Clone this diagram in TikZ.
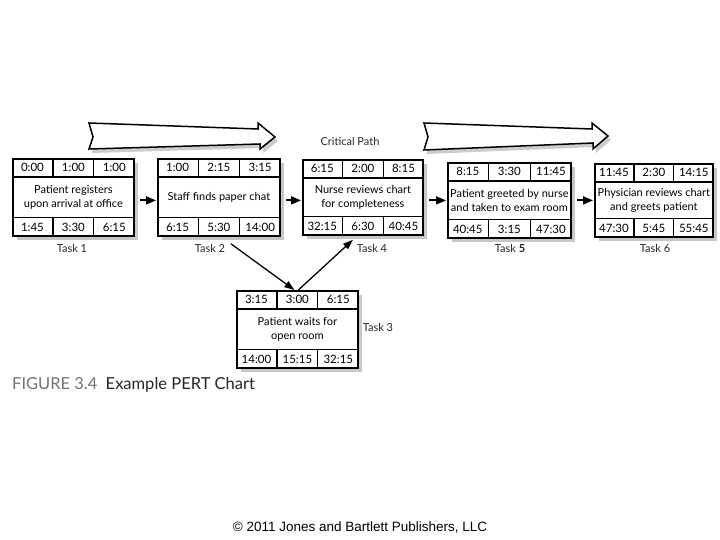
\documentclass[tikz,border=0pt]{standalone}
\usepackage{fontspec}
\setmainfont{Lato}
\newfontfamily\arialfont{Liberation Sans}
\usetikzlibrary{calc,arrows.meta}
\definecolor{shadowgray}{gray}{0.78}
\definecolor{capgray}{gray}{0.45}
\newcommand\pertbox[6]{%
  \fill[shadowgray] (#2+5,#3+5) rectangle (#4+5,#5+5);
  \node[boxframe, minimum width={#4-#2}, minimum height={#5-#3}] (#1) at (#2,#3) {#6};
  \draw[divider] ([yshift=-19pt]#1.north west) -- ([yshift=-19pt]#1.north east);
  \draw[divider] ([yshift=19pt]#1.south west) -- ([yshift=19pt]#1.south east);
  \draw[divider] ($(#1.north west)!1/3!(#1.north east)$) -- ++(0,19);
  \draw[divider] ($(#1.north west)!2/3!(#1.north east)$) -- ++(0,19);
  \draw[divider] ($(#1.south west)!1/3!(#1.south east)$) -- ++(0,-19);
  \draw[divider] ($(#1.south west)!2/3!(#1.south east)$) -- ++(0,-19);
}
\newcommand\pertcells[7]{%
  \node[cell] (#1-t1) at ($(#1.north west)!1/6!(#1.north east)+(0,9.5)$) {#2};
  \node[cell] (#1-t2) at ($(#1.north west)!3/6!(#1.north east)+(0,9.5)$) {#3};
  \node[cell] (#1-t3) at ($(#1.north west)!5/6!(#1.north east)+(0,9.5)$) {#4};
  \node[cell] (#1-b1) at ($(#1.south west)!1/6!(#1.south east)+(0,-9.5)$) {#5};
  \node[cell] (#1-b2) at ($(#1.south west)!3/6!(#1.south east)+(0,-9.5)$) {#6};
  \node[cell] (#1-b3) at ($(#1.south west)!5/6!(#1.south east)+(0,-9.5)$) {#7};
}
\begin{document}
\begin{tikzpicture}[x=1pt,y=-1pt,
  boxframe/.style={draw=black, line width=1.8pt, fill=white, inner sep=0pt, anchor=north west,
    align=center, font=\fontsize{11}{14}\selectfont},
  cell/.style={inner sep=0pt, font=\fontsize{11.5}{13}\selectfont},
  divider/.style={line width=1.2pt},
  conn/.style={line width=1.8pt, -{Triangle[length=10pt,width=8pt]}},
  diag/.style={line width=1.3pt, -{Triangle[length=10pt,width=7pt]}},
  tasklabel/.style={inner sep=0pt, font=\fontsize{11}{13}\selectfont, text=black!85},
  bigarrow/.style={draw=black, line width=1.5pt, fill=white, line join=miter},
  arrowshadow/.style={fill=black!20}
]
\useasboundingbox (0,0) rectangle (720,540);

% critical path arrows
\fill[arrowshadow] (92,127) -- (261,133) -- (261,127) -- (278,141) -- (263,153) -- (263,148) -- (92,153) -- cycle;
\draw[bigarrow] (89,123) -- (258,129) -- (258,123) -- (275,137) -- (260,149) -- (260,144) -- (89,149) -- (93,137) -- cycle;
\fill[arrowshadow] (427,127) -- (595,133) -- (595,127) -- (611,140) -- (596,153) -- (596,147) -- (427,154) -- cycle;
\draw[bigarrow] (424,123) -- (592,129) -- (592,123) -- (608,136) -- (593,149) -- (593,143) -- (424,150) -- (428,137) -- cycle;
\node[tasklabel] (cp) at (350,141) {Critical Path};

% boxes
\pertbox{b1}{12}{158}{133}{235}{Patient registers\\upon arrival at office}
\pertcells{b1}{0:00}{1:00}{1:00}{1:45}{3:30}{6:15}
\pertbox{b2}{157}{158}{279}{235}{Staff finds paper chat}
\pertcells{b2}{1:00}{2:15}{3:15}{6:15}{5:30}{14:00}
\pertbox{b4}{302}{159}{422}{234}{Nurse reviews chart\\for completeness}
\pertcells{b4}{6:15}{2:00}{8:15}{32:15}{6:30}{40:45}
\pertbox{b5}{447}{162}{570}{237}{Patient greeted by nurse\\and taken to exam room}
\pertcells{b5}{8:15}{3:30}{11:45}{40:45}{3:15}{47:30}
\pertbox{b6}{594}{163}{712}{236}{Physician reviews chart\\and greets patient}
\pertcells{b6}{11:45}{2:30}{14:15}{47:30}{5:45}{55:45}
\pertbox{b3}{236}{290}{357}{367}{Patient waits for\\open room}
\pertcells{b3}{3:15}{3:00}{6:15}{14:00}{15:15}{32:15}

% task labels
\node[tasklabel] (l1) at (72,248) {Task 1};
\node[tasklabel] (l2) at (210,248) {Task 2};
\node[tasklabel] (l4) at (372,248) {Task 4};
\node[tasklabel] (l5) at (510,248) {Task \textbf{5}};
\node[tasklabel] (l6) at (655,248) {Task 6};
\node[tasklabel] (l3) at (378,327) {Task 3};

% connectors
\draw[conn] ([xshift=5pt,yshift=-3pt]b1.east) -- ([xshift=-1pt,yshift=-3pt]b2.west);
\draw[conn] ([xshift=5pt,yshift=-3pt]b2.east) -- ([xshift=-1pt,yshift=-3pt]b4.west);
\draw[conn] ([xshift=5pt,yshift=-3pt]b4.east) -- ([xshift=-1pt]b5.west);
\draw[conn] ([xshift=5pt]b5.east) -- ([xshift=-1pt]b6.west);
\draw[diag] ([xshift=12pt,yshift=-7pt]b2.south) -- ([xshift=-3pt]b3.north);
\draw[diag] ([xshift=1pt]b3.north) -- ([xshift=-10pt,yshift=-4pt]b4.south);

% caption
\node[anchor=base west, inner sep=0pt, font=\fontsize{16.5}{20}\selectfont] (cap) at (12,389)
  {\textcolor{capgray}{FIGURE 3.4}\hspace{0.5em}\textcolor{black!85}{Example PERT Chart}};
\node[inner sep=0pt, font=\arialfont\fontsize{13.5}{16}\selectfont] (copy) at (360,527)
  {© 2011 Jones and Bartlett Publishers, LLC};
\end{tikzpicture}
\end{document}
